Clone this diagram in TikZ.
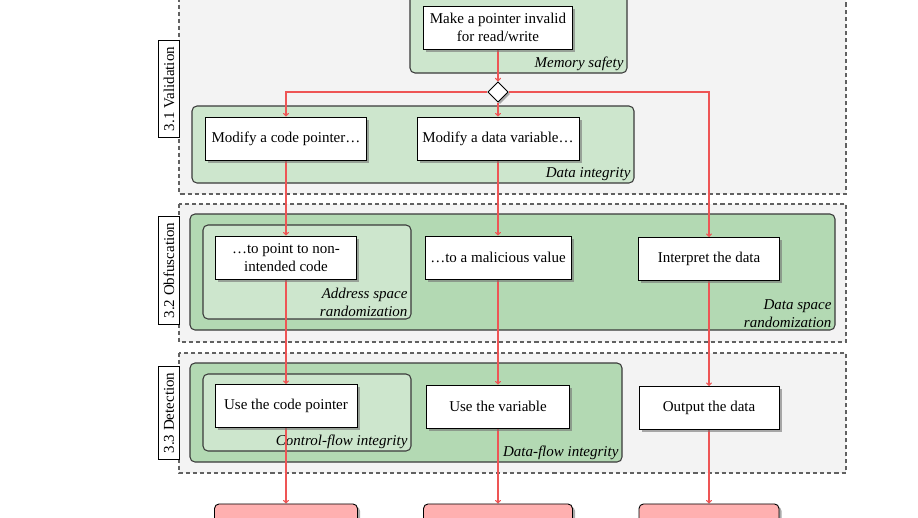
\documentclass[tikz,border=0pt]{standalone}
\usepackage{fontspec}
\setmainfont{Liberation Serif}
\usetikzlibrary{arrows.meta,shapes.geometric,shadows}
\definecolor{bggray}{HTML}{F3F3F3}
\definecolor{lightgreen}{HTML}{CDE6CD}
\definecolor{darkgreen}{HTML}{B3D9B3}
\definecolor{redfill}{HTML}{FFB0B0}
\definecolor{redline}{HTML}{EE5555}
\definecolor{boxborder}{HTML}{3A3A3A}
\pgfdeclarelayer{back}
\pgfdeclarelayer{mid}
\pgfsetlayers{back,mid,main}
\begin{document}
\begin{tikzpicture}[x=0.6667pt,y=-0.6667pt,
  every node/.style={font=\fontsize{10}{12}\selectfont},
  stepbox/.style={draw=black, fill=white, line width=0.6pt, align=center, inner sep=0pt,
    minimum height=28.7pt,
    drop shadow={shadow xshift=1.8pt, shadow yshift=-1.8pt, fill=black!55, opacity=0.6}},
  endbox/.style={draw=black, fill=redfill, line width=0.6pt, rounded corners=3pt, inner sep=0pt,
    minimum height=28.7pt,
    drop shadow={shadow xshift=1.8pt, shadow yshift=-1.8pt, fill=black!55, opacity=0.6}},
  dec/.style={diamond, draw=black, fill=white, line width=0.6pt, inner sep=0pt,
    minimum width=13.5pt, minimum height=13.5pt,
    drop shadow={shadow xshift=1.3pt, shadow yshift=-1.3pt, fill=black!55, opacity=0.6}},
  phase/.style={dash pattern=on 2.7pt off 2pt, draw=black!62, line width=0.8pt, fill=bggray},
  phaselabel/.style={draw=black, fill=white, line width=0.6pt, rotate=90, inner xsep=4pt, inner ysep=0pt, minimum height=13.6pt},
  lgbox/.style={draw=boxborder, fill=lightgreen, line width=0.7pt, rounded corners=3.3pt},
  dgbox/.style={draw=boxborder, fill=darkgreen, line width=0.7pt, rounded corners=3.3pt},
  deflabel/.style={anchor=south east, align=right, inner sep=1.5pt, font=\fontsize{10}{12}\selectfont\itshape},
  flow/.style={draw=redline, line width=0.7pt, -{To[length=2.4pt,width=4pt]}}]
\useasboundingbox (0,0) rectangle (918,517);

\begin{pgfonlayer}{back}
  % phases
  \draw[phase] (179,-16) rectangle (846,194);
  \draw[phase] (179,204) rectangle (846,342);
  \draw[phase] (179,353) rectangle (846,473);
  % defences
  \draw[lgbox] (410,-5) rectangle (627,73);
  \node[deflabel] (lms) at (626,73) {Memory safety};
  \draw[lgbox] (192,106) rectangle (634,183);
  \node[deflabel] (ldi) at (633,183) {Data integrity};
  \draw[dgbox] (190,214) rectangle (835,330);
  \node[deflabel] (ldsr) at (834,330) {Data space\\randomization};
  \draw[lgbox] (203,225) rectangle (411,319);
  \node[deflabel] (lasr) at (410,319) {Address space\\randomization};
  \draw[dgbox] (190,363) rectangle (622,462);
  \node[deflabel] (ldfi) at (621,462) {Data-flow integrity};
  \draw[lgbox] (203,374) rectangle (411,451);
  \node[deflabel] (lcfi) at (410,451) {Control-flow integrity};
\end{pgfonlayer}

\node[phaselabel] (pv) at (169,89) {3.1 Validation};
\node[phaselabel] (po) at (169,270.5) {3.2 Obfuscation};
\node[phaselabel] (pd) at (169,413) {3.3 Detection};

\node[stepbox, minimum width=99.3pt] (mp) at (498,27.5) {Make a pointer invalid\\for read/write};
\node[dec] (dia) at (498,92) {};
\node[stepbox, minimum width=107.3pt] (mcp) at (286,138.5) {Modify a code pointer\ldots};
\node[stepbox, minimum width=108pt] (mdv) at (498,138.5) {Modify a data variable\ldots};
\node[stepbox, minimum width=94pt] (ptr) at (286,257.5) {\ldots to point to non-\\intended code};
\node[stepbox, minimum width=97.3pt] (mal) at (498,257.5) {\ldots to a malicious value};
\node[stepbox, minimum width=94pt] (interp) at (709,259) {Interpret the data};
\node[stepbox, minimum width=94.7pt] (usecp) at (286,406) {Use the code pointer};
\node[stepbox, minimum width=95.3pt] (usev) at (498,406.5) {Use the variable};
\node[stepbox, minimum width=93.3pt] (outd) at (709,408) {Output the data};
\node[endbox, minimum width=95.3pt] (e1) at (286,525.5) {};
\node[endbox, minimum width=99.3pt] (e2) at (498,525.5) {};
\node[endbox, minimum width=93.3pt] (e3) at (709,525.5) {};

\begin{pgfonlayer}{mid}
  \draw[flow] (mp) -- (dia);
  \draw[flow] (dia.west) -| (mcp.north);
  \draw[flow] (dia) -- (mdv);
  \draw[flow] (dia.east) -| (interp.north);
  \draw[flow] (mcp) -- (ptr);
  \draw[flow] (mdv) -- (mal);
  \draw[flow] (ptr) -- (usecp);
  \draw[flow] (mal) -- (usev);
  \draw[flow] (interp) -- (outd);
  \draw[flow] (usecp) -- (e1);
  \draw[flow] (usev) -- (e2);
  \draw[flow] (outd) -- (e3);
\end{pgfonlayer}
\end{tikzpicture}
\end{document}
